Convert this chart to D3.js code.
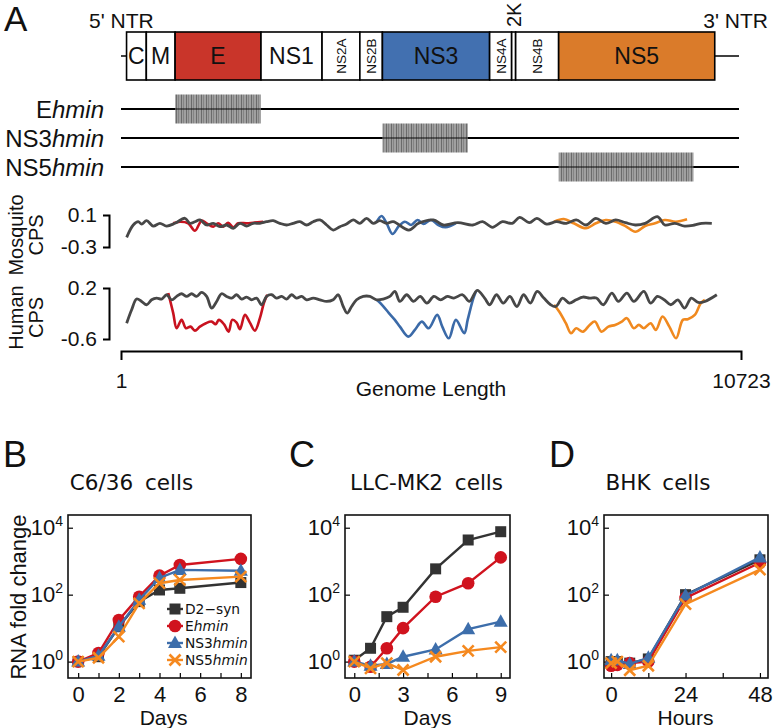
<!DOCTYPE html>
<html>
<head>
<meta charset="utf-8">
<script src="https://cdn.jsdelivr.net/npm/d3@7"></script>
<style>
  body { margin: 0; background: #fff; }
  text { font-family: "Liberation Sans", Arial, sans-serif; fill: #111; }
  .dv { font-family: "DejaVu Sans", sans-serif; }
</style>
</head>
<body>
<script>
// ---- panel A data ----
const genomeLength = 10723;
const genes = ["C", "M", "E", "NS1", "NS2A", "NS2B", "NS3", "NS4A", "2K", "NS4B", "NS5"];
const geneStart = [97, 439, 937, 2422, 3478, 4132, 4522, 6376, 6757, 6826, 7570];
const geneEnd = [438, 936, 2421, 3477, 4131, 4521, 6375, 6756, 6825, 7569, 10269];
const mutants = ["E", "NS3", "NS5"];
const mutStart = [937, 4522, 7570];
const mutEnd = [2421, 6000, 9900];

// codon pair score, sliding window (genome position, score)
const mosqPos = [99,213,299,358,444,558,674,790,934,1107,1193,1279,1366,1482,1596,1712,1828,1942,2058,2173,2287,2403,2519,2633,2749,2865,2979,3095,3211,3325,3441,3557,3671,3787,3902,4017,4132,4248,4362,4478,4594,4708,4978,5147,5403,5573,5827,6084,6255,6425,6596,6766,6894,7065,7191,7362,7533,7703,7874,8043,8213,8386,8555,8725,8896,9065,9278,9406,9579,9747,9918,10045,10218];
const mosqWT = [-0.179,-0.025,0.016,-0.013,0.029,-0.038,-0.004,-0.038,-0.004,0.059,-0.004,0.016,0.038,-0.025,-0.004,-0.046,-0.025,-0.066,-0.004,-0.038,-0.004,-0.004,0.016,0.029,-0.004,-0.025,-0.004,0.016,-0.025,0.016,0.038,-0.025,-0.088,-0.046,-0.013,0.038,-0.004,0.059,-0.004,0.029,-0.004,0.016,-0.088,-0.004,0.038,-0.025,0.004,-0.025,0.016,-0.054,0.016,-0.004,0.071,0.004,0.059,-0.013,0.016,-0.004,0.038,-0.025,0.059,-0.004,0.038,0.004,-0.025,-0.004,0.079,-0.025,-0.004,-0.038,-0.025,-0.004,-0.004];
const mosqEPos = [904,1020,1164,1279,1395,1482,1596,1682,1769,1855,1942,2028,2173,2287,2460];
const mosqE = [-0.004,0.016,-0.004,-0.096,0.029,-0.004,-0.046,-0.004,-0.046,0.004,-0.054,-0.004,-0.004,0.004,0.016];
const mosqNS3Pos = [4423,4509,4594,4696,4807,4910,5019,5130,5232,5360,5488,5616,5787];
const mosqNS3 = [0.016,0.088,-0.004,-0.138,-0.038,0.016,-0.025,0.038,-0.013,0.038,-0.025,-0.054,-0.004];
const mosqNS5Pos = [7490,7659,7831,8043,8213,8384,8555,8725,8896,9065,9236,9406,9594,9790];
const mosqNS5 = [0.016,0.05,-0.004,-0.066,-0.004,0.038,0.016,-0.038,-0.109,-0.038,-0.004,0.038,0.016,0.046];

const humPos = [99,185,271,358,444,531,617,704,790,877,963,1049,1136,1222,1309,1395,1482,1568,1655,1741,1828,1914,2000,2087,2173,2260,2346,2433,2519,2606,2692,2779,2865,2951,3038,3124,3211,3325,3441,3557,3671,3757,3844,3913,3989,4075,4190,4305,4421,4535,4651,4737,4824,4942,5059,5175,5291,5412,5528,5645,5758,5908,6026,6161,6289,6377,6494,6612,6726,6847,6963,7080,7198,7314,7431,7521,7637,7755,7872,7988,8106,8223,8341,8489,8603,8749,8870,9043,9160,9278,9395,9510,9631,9747,9864,9982,10098,10305];
const humWT = [-0.352,-0.142,0.027,-0.011,-0.063,0.015,0.042,0.027,0.094,0.015,0.068,0.11,0.068,0.11,0.068,0.131,0.068,-0.115,-0.011,0.11,0.068,0.042,0.094,0.027,0.058,0.015,0.042,-0.063,0.068,0.094,0.042,0.068,0.027,0.094,0.042,0.068,0.015,0.042,0.015,-0.011,0.015,0.094,-0.09,-0.194,-0.09,0.015,0.068,0.068,0.015,0.027,0.068,0.146,-0.011,0.094,-0.011,0.068,-0.037,0.068,0.015,0.068,0.042,0.094,-0.011,0.162,0.042,-0.063,0.094,-0.037,0.068,-0.09,0.094,-0.037,0.146,0.042,-0.063,-0.09,0.042,-0.037,0.015,0.058,0.042,0.042,-0.063,0.121,-0.011,0.121,-0.011,0.146,-0.037,0.068,0.015,-0.063,0.015,-0.115,0.042,-0.027,-0.011,0.094];
const humEPos = [818,904,963,1049,1124,1205,1279,1366,1470,1568,1637,1694,1781,1862,1924,2000,2058,2144,2230,2317,2403,2472,2530];
const humE = [0.121,-0.194,-0.431,-0.3,-0.431,-0.406,-0.469,-0.406,-0.352,-0.327,-0.368,-0.3,-0.368,-0.485,-0.3,-0.343,-0.447,-0.221,-0.343,-0.469,-0.273,-0.037,0.094];
const humNS3Pos = [4426,4530,4634,4737,4824,4971,5083,5204,5322,5469,5557,5671,5792,5937,5996,6086,6138];
const humNS3 = [0.015,-0.079,-0.194,-0.3,-0.406,-0.563,-0.458,-0.327,-0.431,-0.221,-0.406,-0.589,-0.3,-0.51,-0.3,0.015,0.146];
const humNS5Pos = [7490,7578,7694,7784,7872,7988,8106,8195,8311,8429,8546,8662,8749,8870,8956,9043,9160,9250,9366,9484,9601,9717,9803,9924,10028,10098];
const humNS5 = [-0.063,-0.169,-0.352,-0.51,-0.431,-0.485,-0.379,-0.327,-0.485,-0.406,-0.379,-0.327,-0.273,-0.431,-0.379,-0.431,-0.352,-0.458,-0.248,-0.406,-0.589,-0.3,-0.289,-0.221,-0.037,0.015];

// ---- panels B-D data (RNA fold change) ----
const seriesNames = ["D2-syn", "Ehmin", "NS3hmin", "NS5hmin"];
const c636Days = [0, 1, 2, 3, 4, 5, 8];
const c636D2syn = [1, 1.4, 11, 62, 138, 155, 230];
const c636Ehmin = [1, 1.8, 17.5, 87, 370, 770, 1170];
const c636NS3 = [1, 1.5, 11, 70, 315, 550, 520];
const c636NS5 = [1, 1.3, 5.6, 55, 220, 275, 345];

const llcDays = [0, 1, 2, 3, 5, 7, 9];
const llcD2syn = [1.1, 2.5, 22, 42, 590, 4300, 7600];
const llcEhmin = [1, 0.7, 2.5, 10, 87, 220, 1300];
const llcNS3 = [1, 0.75, 0.85, 1.4, 2.3, 9.3, 15.6];
const llcNS5 = [1, 0.63, 0.9, 0.56, 1.4, 2.1, 2.7];

const bhkHours = [0, 2, 6, 12, 24, 48];
const bhkD2syn = [1, 1, 0.9, 1.2, 100, 1100];
const bhkEhmin = [0.75, 0.8, 0.9, 1.0, 80, 900];
const bhkNS3 = [1.1, 1.1, 0.85, 1.3, 95, 1300];
const bhkNS5 = [0.9, 1.0, 0.55, 0.75, 52, 560];

// styles
const geneFill = { E: "#c9352a", NS3: "#4270b0", NS5: "#da7b2a" };
const cpsColor = { WT: "#474747", E: "#c8121f", NS3: "#3b6aa8", NS5: "#f0891f" };
const serColor = ["#333333", "#d0131e", "#3d6eab", "#f5891f"];
const serShape = ["square", "circle", "triangle", "cross"];

const svg = d3.select("body").append("svg")
    .attr("width", 773).attr("height", 728)
    .style("background", "#fff");

const defs = svg.append("defs");
const pat = defs.append("pattern").attr("id", "hatch")
    .attr("patternUnits", "userSpaceOnUse").attr("width", 5).attr("height", 10);
pat.append("rect").attr("width", 5).attr("height", 10).attr("fill", "#959595");
pat.append("rect").attr("x", 1).attr("width", 1).attr("height", 10).attr("fill", "#5a5a5a");
pat.append("rect").attr("x", 3).attr("width", 0.8).attr("height", 10).attr("fill", "#6e6e6e");

// ================= Panel A =================
const gx = d3.scaleLinear().domain([1, genomeLength]).range([121, 741]);

svg.append("text").attr("x", 4).attr("y", 31).attr("font-size", 35).text("A");
svg.append("text").attr("x", 89).attr("y", 28).attr("font-size", 21).text("5' NTR");
svg.append("text").attr("x", 768).attr("y", 28).attr("font-size", 21)
    .attr("text-anchor", "end").text("3' NTR");

const boxTop = 32, boxH = 48, boxMid = boxTop + boxH / 2;
svg.append("line").attr("x1", gx(1)).attr("x2", gx(geneStart[0]))
    .attr("y1", boxMid).attr("y2", boxMid).attr("stroke", "#000").attr("stroke-width", 1.5);
svg.append("line").attr("x1", gx(geneEnd[geneEnd.length - 1])).attr("x2", gx(genomeLength) - 2)
    .attr("y1", boxMid).attr("y2", boxMid).attr("stroke", "#000").attr("stroke-width", 1.5);

const gene = svg.selectAll("g.gene").data(genes).enter().append("g").attr("class", "gene");
gene.append("rect")
    .attr("x", (d, i) => gx(geneStart[i]))
    .attr("width", (d, i) => gx(geneEnd[i]) - gx(geneStart[i]))
    .attr("y", boxTop).attr("height", boxH)
    .attr("fill", d => geneFill[d] || "#fff")
    .attr("stroke", "#000").attr("stroke-width", 1.6);
gene.filter(d => d !== "2K").append("text")
    .attr("transform", d => {
      const k = genes.indexOf(d);
      const cx = (gx(geneStart[k]) + gx(geneEnd[k])) / 2;
      return d.length === 4 ? `translate(${cx + 5},${boxMid}) rotate(-90)` : `translate(${cx},${boxMid + 8})`;
    })
    .attr("text-anchor", "middle")
    .attr("font-size", d => d.length === 4 ? 13.5 : 23)
    .text(d => d);
svg.append("text")
    .attr("transform", `translate(${(gx(geneStart[8]) + gx(geneEnd[8])) / 2 + 7},27) rotate(-90)`)
    .attr("font-size", 20).text("2K");

// mutant constructs
const mutY = [109, 138, 167];
mutants.forEach((m, i) => {
  svg.append("line").attr("x1", gx(1)).attr("x2", gx(genomeLength) - 2)
      .attr("y1", mutY[i]).attr("y2", mutY[i]).attr("stroke", "#000").attr("stroke-width", 2);
  svg.append("rect").attr("x", gx(mutStart[i])).attr("width", gx(mutEnd[i]) - gx(mutStart[i]))
      .attr("y", mutY[i] - 14.5).attr("height", 29).attr("fill", "url(#hatch)").attr("opacity", 0.9);
  svg.append("line").attr("x1", gx(mutStart[i])).attr("x2", gx(mutEnd[i]))
      .attr("y1", mutY[i]).attr("y2", mutY[i]).attr("stroke", "#222").attr("stroke-width", 1.2);
  const t = svg.append("text").attr("x", 104).attr("y", mutY[i] + 8.5)
      .attr("text-anchor", "end").attr("font-size", 24);
  t.append("tspan").text(m);
  t.append("tspan").attr("font-style", "italic").text("hmin");
});

// CPS tracks
function cpsTrack(domain, range, labels, title, wt, wtPos, segs) {
  const y = d3.scaleLinear().domain(domain).range(range);
  const ax = svg.append("g").attr("transform", "translate(109,0)")
      .call(d3.axisLeft(y).tickValues(domain).tickSizeInner(0).tickSizeOuter(6).tickPadding(12)
        .tickFormat(d => labels[domain.indexOf(d)]));
  ax.select(".domain").attr("stroke-width", 2);
  ax.selectAll("text").attr("font-size", 21);
  const cy = (range[0] + range[1]) / 2 + 4;
  title.forEach((t, i) => {
    svg.append("text").attr("transform", `translate(${23 + i * 20},${cy}) rotate(-90)`)
        .attr("text-anchor", "middle").attr("font-size", 20).text(t);
  });
  const line = d3.line().x(d => gx(d[0])).y(d => y(d[1])).curve(d3.curveCatmullRom.alpha(0.5));
  segs.forEach(s => {
    svg.append("path").datum(s.pos.map((p, i) => [p, s.val[i]]))
        .attr("d", line).attr("fill", "none").attr("stroke", cpsColor[s.key]).attr("stroke-width", 2.6);
  });
  svg.append("path").datum(wtPos.map((p, i) => [p, wt[i]]))
      .attr("d", line).attr("fill", "none").attr("stroke", cpsColor.WT).attr("stroke-width", 2.8);
}
cpsTrack([-0.3, 0.1], [247, 215], ["-0.3", "0.1"], ["Mosquito", "CPS"], mosqWT, mosqPos, [
  { key: "E", pos: mosqEPos, val: mosqE },
  { key: "NS3", pos: mosqNS3Pos, val: mosqNS3 },
  { key: "NS5", pos: mosqNS5Pos, val: mosqNS5 }]);
cpsTrack([-0.6, 0.2], [339, 288], ["-0.6", "0.2"], ["Human", "CPS"], humWT, humPos, [
  { key: "E", pos: humEPos, val: humE },
  { key: "NS3", pos: humNS3Pos, val: humNS3 },
  { key: "NS5", pos: humNS5Pos, val: humNS5 }]);

const gAxis = svg.append("g").attr("transform", "translate(0,351)")
    .call(d3.axisBottom(gx).tickValues([1, genomeLength]).tickSizeInner(0).tickSizeOuter(9).tickPadding(22)
      .tickFormat(d3.format("d")));
gAxis.select(".domain").attr("stroke-width", 2);
gAxis.selectAll("text").attr("font-size", 21);
svg.append("text").attr("x", 431).attr("y", 396).attr("text-anchor", "middle")
    .attr("font-size", 21).text("Genome Length");

// ================= Panels B-D =================
function marker(sel, shape, color) {
  if (shape === "square") sel.append("rect").attr("x", -5.5).attr("y", -5.5).attr("width", 11).attr("height", 11).attr("fill", color);
  else if (shape === "circle") sel.append("circle").attr("r", 6.3).attr("fill", color);
  else if (shape === "triangle") sel.append("path").attr("d", "M0,-7.5L7,5L-7,5Z").attr("fill", color);
  else sel.append("path").attr("d", "M-5.5,-5.5L5.5,5.5M-5.5,5.5L5.5,-5.5").attr("stroke", color).attr("stroke-width", 2.6).attr("fill", "none");
}

function growthPanel(p) {
  const x = d3.scaleLinear().domain(p.xDomain).range([p.left, p.right]);
  const y = d3.scaleLog().domain([Math.pow(10, -0.49), Math.pow(10, 4.38)]).range([678, 515]);
  svg.append("text").attr("x", p.letterX).attr("y", 467).attr("font-size", 36).text(p.letter);
  svg.append("text").attr("class", "dv").attr("x", (p.left + p.right) / 2 + p.titleDx).attr("y", 490)
      .attr("text-anchor", "middle").attr("font-size", 21.5).attr("word-spacing", 5).text(p.title);

  const xa = svg.append("g").attr("transform", "translate(0,678)")
      .call(d3.axisBottom(x).tickValues(p.ticks).tickSize(-5).tickPadding(8).tickFormat(d => p.labeled.includes(d) ? d : ""));
  xa.select(".domain").remove();
  xa.selectAll("line").attr("stroke-width", 1.2);
  xa.selectAll("text").attr("font-size", 22);
  svg.append("text").attr("x", x(p.xLabelAt)).attr("y", 725).attr("text-anchor", "middle")
      .attr("font-size", 21).text(p.xLabel);

  const ya = svg.append("g").attr("transform", `translate(${p.left},0)`)
      .call(d3.axisLeft(y).tickValues([1, 100, 10000]).tickSize(-5).tickPadding(5).tickFormat(() => ""));
  ya.select(".domain").remove();
  ya.selectAll("line").attr("stroke-width", 1.2);
  ya.selectAll(".tick text").each(function (d) {
    const t = d3.select(this).attr("font-size", 22);
    t.append("tspan").text("10");
    t.append("tspan").attr("font-size", 14).attr("dy", -9).text(Math.round(Math.log10(d)));
  });

  p.series.forEach((vals, s) => {
    const pts = p.xs.map((v, i) => [x(v), y(vals[i])]);
    svg.append("path").attr("d", d3.line()(pts)).attr("fill", "none")
        .attr("stroke", serColor[s]).attr("stroke-width", 2.4);
    pts.forEach(pt => marker(svg.append("g").attr("transform", `translate(${pt[0]},${pt[1]})`), serShape[s], serColor[s]));
  });

  svg.append("rect").attr("x", p.left).attr("y", 515).attr("width", p.right - p.left).attr("height", 163)
      .attr("fill", "none").attr("stroke", "#111").attr("stroke-width", 1.6);
  return { x, y };
}

growthPanel({ letter: "B", letterX: 3, title: "C6/36 cells", titleDx: -28, left: 68, right: 251, xDomain: [-0.5, 8.5],
  ticks: [0, 1, 2, 3, 4, 5, 6, 7, 8], labeled: [0, 2, 4, 6, 8], xLabel: "Days", xLabelAt: 4.2,
  xs: c636Days, series: [c636D2syn, c636Ehmin, c636NS3, c636NS5] });
growthPanel({ letter: "C", letterX: 289, title: "LLC-MK2 cells", titleDx: -1, left: 345, right: 510, xDomain: [-0.57, 9.57],
  ticks: [0, 1.5, 3, 4.5, 6, 7.5, 9], labeled: [0, 3, 6, 9], xLabel: "Days", xLabelAt: 4.5,
  xs: llcDays, series: [llcD2syn, llcEhmin, llcNS3, llcNS5] });
growthPanel({ letter: "D", letterX: 549, title: "BHK cells", titleDx: -28, left: 604, right: 768, xDomain: [-2.3, 50.6],
  ticks: [0, 12, 24, 36, 48], labeled: [0, 24, 48], xLabel: "Hours", xLabelAt: 24,
  xs: bhkHours, series: [bhkD2syn, bhkEhmin, bhkNS3, bhkNS5] });

// y label
svg.append("text").attr("transform", "translate(26,597) rotate(-90)").attr("text-anchor", "middle")
    .attr("font-size", 22).text("RNA fold change");

// legend in panel B
const legY = [609, 626, 643, 660];
seriesNames.forEach((n, i) => {
  const g = svg.append("g").attr("transform", `translate(175,${legY[i]})`);
  g.append("line").attr("x1", -8).attr("x2", 8).attr("stroke", serColor[i]).attr("stroke-width", 2.4);
  marker(g, serShape[i], serColor[i]);
  const t = g.append("text").attr("class", "dv").attr("x", 10).attr("y", 5).attr("font-size", 13.8);
  if (n.endsWith("hmin")) {
    t.append("tspan").text(n.replace("hmin", ""));
    t.append("tspan").attr("font-style", "italic").text("hmin");
  } else t.text(n.replace("-", "\u2212"));
});
</script>
</body>
</html>
